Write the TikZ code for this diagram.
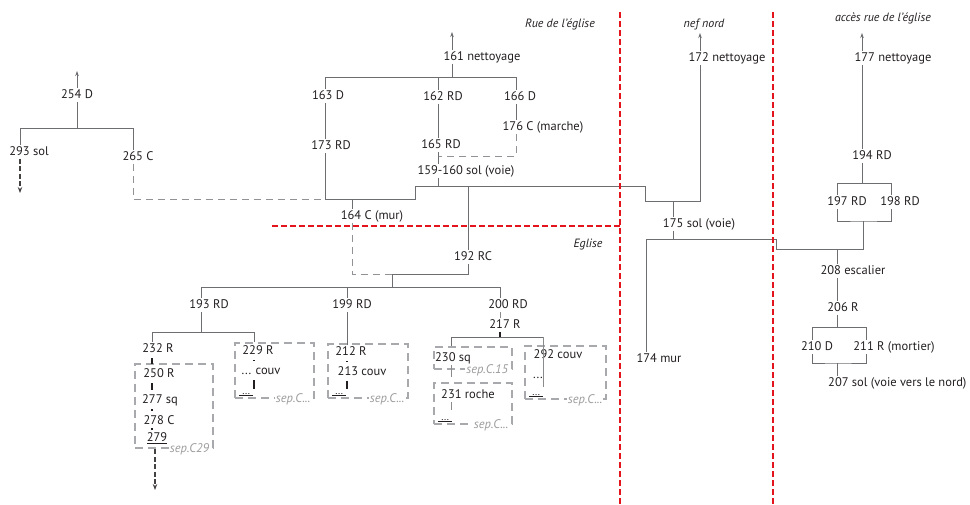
\documentclass[tikz,border=0pt]{standalone}
\usepackage{fontspec}
\setmainfont{PT Sans}
\usepackage{tikz}
\usetikzlibrary{arrows.meta}
\definecolor{linegray}{HTML}{6D6E71}
\definecolor{boxgray}{HTML}{A7A9AC}
\definecolor{sepgray}{HTML}{9C9C9C}
\definecolor{txt}{HTML}{231F20}
\definecolor{divred}{HTML}{E3141C}
\newcommand\sepmore{sep.C...}

\begin{document}
\begin{tikzpicture}[x=1pt, y=-1pt,
    lbl/.style={text=txt, inner sep=1pt, text height=9pt, text depth=2.5pt, font=\fontsize{12.5}{14}\selectfont},
    ttl/.style={text=txt, inner sep=1pt, font=\fontsize{12}{14}\selectfont\itshape},
    ln/.style={draw=linegray, line width=0.8pt},
    fine/.style={draw=linegray!80, line width=0.6pt},
    dln/.style={draw=linegray!75, line width=0.8pt, dash pattern=on 7pt off 5pt},
    upar/.style={ln, -{Stealth[length=5pt,width=3.5pt]}},
    downar/.style={draw=txt!85, line width=1.3pt, dash pattern=on 5pt off 2.5pt, -{Stealth[length=6pt,width=4.5pt]}},
    grp/.style={draw=boxgray, line width=2.8pt, dash pattern=on 8pt off 5pt, inner sep=0pt},
    seplbl/.style={text=sepgray, fill=white, inner sep=1pt, font=\fontsize{12.5}{13}\selectfont\itshape},
    dotmark/.style={text=txt, inner sep=0.5pt, font=\fontsize{10}{10}\selectfont},
    blk/.style={draw=txt, line width=2.4pt},
    gap/.style={shorten <=2.5pt, shorten >=3pt},
    divider/.style={draw=divred, line width=2.4pt, dash pattern=on 6pt off 3pt}]
\useasboundingbox (0,0) rectangle (970,504);

% titles
\node[ttl] (tRue) at (560,24) {Rue de l'église};
\node[ttl] (tNef) at (704,24) {nef nord};
\node[ttl] (tAcc) at (883,18) {accès rue de l'église};
\node[ttl] (tEgl) at (588,245) {Eglise};

% groups (dashed boxes)
\node[grp, minimum width=78pt, minimum height=84pt] (g232) at (174,406) {};
\node[grp, minimum width=79pt, minimum height=55pt] (g229) at (274.5,370.5) {};
\node[grp, minimum width=80pt, minimum height=54pt] (g212) at (368,371) {};
\node[grp, minimum width=78pt, minimum height=22pt] (g230) at (473,358) {};
\node[grp, minimum width=78pt, minimum height=41pt] (g231) at (473,403.5) {};
\node[grp, minimum width=81pt, minimum height=53pt] (g292) at (565.5,372.5) {};

% left tree
\node[lbl] (n254) at (77,95) {254 D};
\node[lbl] (n293) at (29,152) {293 sol};
\node[lbl] (n265) at (138,157) {265 C};

% middle tree
\node[lbl] (n161) at (482,57) {161 nettoyage};
\node[lbl] (n163) at (328,96) {163 D};
\node[lbl] (n162) at (443,97) {162 RD};
\node[lbl] (n166) at (520,97) {166 D};
\node[lbl] (n173) at (331,146) {173 RD};
\node[lbl] (n165) at (441,145) {165 RD};
\node[lbl] (n176) at (543,127) {176 C (marche)};
\node[lbl] (n159) at (466,171) {159-160 sol (voie)};
\node[lbl] (n164) at (372,216) {164 C (mur)};
\node[lbl] (n192) at (473,257) {192 RC};
\node[lbl] (n193) at (209,305) {193 RD};
\node[lbl] (n199) at (352,305) {199 RD};
\node[lbl] (n200) at (508,305) {200 RD};
\node[lbl] (n217) at (505,325) {217 R};
\node[lbl] (n232) at (158,349) {232 R};
\node[lbl] (n250) at (159,374) {250 R};
\node[lbl] (n277) at (160,400) {277 sq};
\node[lbl] (n278) at (159,421) {278 C};
\node[lbl] (n279) at (157,438) {\underline{279}};
\node[lbl] (n229) at (258,351) {229 R};
\node[lbl] (nca) at (261,371) {... couv};
\node[lbl] (n212) at (351,352) {212 R};
\node[lbl] (n213) at (362,372) {213 couv};
\node[lbl] (n230) at (453,358) {230 sq};
\node[lbl] (n231) at (468,395) {231 roche};
\node[lbl] (n292) at (558,355) {292 couv};
\node[lbl] (nd292) at (538,375) {...};

% right trees
\node[lbl] (n172) at (727,58) {172 nettoyage};
\node[lbl] (n175) at (699,224) {175 sol (voie)};
\node[lbl] (n174) at (659,359) {174 mur};
\node[lbl] (n177) at (893,58) {177 nettoyage};
\node[lbl] (n194) at (872,156) {194 RD};
\node[lbl] (n197) at (847,202) {197 RD};
\node[lbl] (n198) at (900,202) {198 RD};
\node[lbl] (n208) at (853,271) {208 escalier};
\node[lbl] (n206) at (843,308) {206 R};
\node[lbl] (n210) at (817,347) {210 D};
\node[lbl] (n211) at (894,347) {211 R (mortier)};
\node[lbl, anchor=west] (n207) at (827,383) {207 sol (voie vers le nord)};

% junctions
\coordinate (a254) at (77,71);
\coordinate (j254) at (77,128);
\coordinate (c293) at (20,128);
\coordinate (c265) at (133,128);
\coordinate (e293) at (20,193);
\coordinate (a161) at (452,32);
\coordinate (j161) at (452,77);
\coordinate (c163) at (325,77);
\coordinate (c162) at (438,77);
\coordinate (c166) at (516,77);
\coordinate (j165) at (438,156);
\coordinate (j173) at (325,199);
\coordinate (j164) at (352,199);
\coordinate (s1) at (415,199);
\coordinate (s2) at (415,186);
\coordinate (j159) at (438,186);
\coordinate (j192) at (468,186);
\coordinate (s3) at (645,186);
\coordinate (j175) at (673,201);
\coordinate (s4) at (700,201);
\coordinate (a172) at (700,33);
\coordinate (k192) at (392,274);
\coordinate (b192) at (392,287);
\coordinate (b193) at (201,287);
\coordinate (b199) at (347,287);
\coordinate (b200) at (500,287);
\coordinate (d193) at (201,332);
\coordinate (d232) at (152,332);
\coordinate (d229) at (254,332);
\coordinate (e279) at (155,490);
\coordinate (m229) at (254,389);
\coordinate (m212) at (347,389);
\coordinate (b217) at (500,337);
\coordinate (b230) at (451,337);
\coordinate (b292) at (543,337);
\coordinate (m292) at (543,387);
\coordinate (m230) at (451,377);
\coordinate (m231) at (451,410);
\coordinate (a177) at (862,33);
\coordinate (r194) at (862,183);
\coordinate (r197) at (837,183);
\coordinate (r198) at (891,183);
\coordinate (u197) at (863,221);
\coordinate (u1) at (863,249);
\coordinate (u2) at (776,249);
\coordinate (u3) at (776,239);
\coordinate (u4) at (646,239);
\coordinate (u175) at (673,239);
\coordinate (u208) at (837,249);
\coordinate (v206) at (837,327);
\coordinate (v210) at (812,327);
\coordinate (v211) at (866,327);
\coordinate (w207) at (837,363);

% left tree
\draw[upar] (n254.north) -- (a254);
\draw[ln] (n254.south) -- (j254);
\draw[ln] (n293.north -| c293) |- (c265) -- (n265.north -| c265);
\draw[downar] (n293.south -| c293) -- (e293);
\draw[dln] (n265.south -| c265) |- (j173);

% middle tree
\draw[upar] (n161.north -| j161) -- (a161);
\draw[ln] (n161.south -| j161) -- (j161);
\draw[ln] (n163.north -| c163) |- (c166) -- (n166.north -| c166);
\draw[ln] (c162) -- (n162.north -| c162);
\draw[ln] (n163.south -| c163) -- (n173.north -| c163);
\draw[ln] (n162.south -| c162) -- (n165.north -| c162);
\draw[ln] (n166.south -| c166) -- (n176.north -| c166);
\draw[dln] (n176.south -| c166) |- (j165);
\draw[ln] (n165.south -| c162) -- (n159.north -| c162);
\draw[ln] (n159.south -| j159) -- (j159);
\draw[ln] (n173.south -| c163) -- (j173) -- (s1) -- (s2) -- (s3) |- (s4) -- (n172.south -| s4);
\draw[ln] (j164) -- (n164.north -| j164);
\draw[ln] (j192) -- (n192.north -| j192);
\draw[dln] (n164.south -| j164) |- (k192);
\draw[ln] (n192.south -| j192) |- (k192) -- (b192);
\draw[ln] (n193.north -| b193) |- (b200) -- (n200.north -| b200);
\draw[ln] (b199) -- (n199.north -| b199);

% 193 RD
\draw[ln] (n193.south -| b193) -- (d193);
\draw[ln] (n232.north -| d232) |- (d229) -- (g229.north -| d229);
\foreach \a/\b in {n232/n250, n250/n277, n277/n278, n278/n279}
  \draw[blk, gap] (\a.south -| d232) -- (\b.north -| d232);
\draw[downar] (g232.south -| e279) -- (e279);
\draw[blk, gap] (n229.south -| d229) -- (nca.north -| d229);
\draw[blk, shorten <=2.5pt] (nca.south -| d229) -- (m229);

% 199 RD
\draw[ln] (n199.south -| b199) -- (n212.north -| b199);
\draw[blk, gap] (n212.south -| b199) -- (n213.north -| b199);
\draw[blk, shorten <=2.5pt] (n213.south -| b199) -- (m212);

% 200 RD
\draw[fine] (n200.south -| b217) -- (n217.north -| b217);
\draw[blk] (n217.south -| b217) -- (b217);
\draw[ln] (g230.north -| b230) |- (b292);
\draw[fine] (b292) -- (m292);
\draw[fine] (n230.south -| b230) -- (m230);
\draw[fine] (n231.south -| b230) -- (m231);

% sep labels
\foreach \g/\t in {g232/sep.C29, g229/\sepmore, g212/\sepmore, g230/sep.C.15, g231/\sepmore, g292/\sepmore}
  \node[seplbl, anchor=east, xshift=-4pt] at (\g.south east) {\t};
\foreach \g in {g229, g212, g231, g292}
  \node[dotmark, anchor=south west, xshift=5pt, yshift=2.5pt] at (\g.south west) {\underline{\hspace{3pt}...\hspace{3pt}}};

% right trees
\draw[upar] (n172.north -| s4) -- (a172);
\draw[ln] (n175.north -| j175) -- (j175);
\draw[ln] (n175.south -| u175) -- (u175);
\draw[ln] (n174.north -| u4) |- (u3) -- (u2) -- (u1) -- (u197);
\draw[upar] (n177.north -| a177) -- (a177);
\draw[ln] (n177.south -| a177) -- (n194.north -| a177);
\draw[ln] (n194.south -| r194) -- (r194);
\draw[ln] (n197.north -| r197) |- (r198) -- (n198.north -| r198);
\draw[ln] (n197.south -| r197) |- (u197) -| (n198.south -| r198);
\draw[ln] (u208) -- (n208.north -| u208);
\draw[ln] (n208.south -| u208) -- (n206.north -| u208);
\draw[ln] (n206.south -| u208) -- (v206);
\draw[ln] (n210.north -| v210) |- (v211) -- (n211.north -| v211);
\draw[ln] (n210.south -| v210) |- (w207) -| (n211.south -| v211);
\draw[ln] (w207) -- (n207.north -| w207);

% dividers
\coordinate (rA) at (620,12);
\coordinate (rB) at (620,504);
\coordinate (rC) at (773,12);
\coordinate (rD) at (773,504);
\coordinate (rE) at (272,226);
\draw[divider] (rA) -- (rB);
\draw[divider] (rC) -- (rD);
\draw[divider] (rE) -- (rE -| rA);
\end{tikzpicture}
\end{document}
